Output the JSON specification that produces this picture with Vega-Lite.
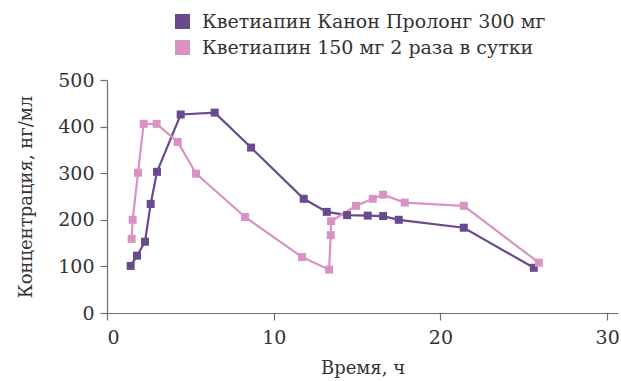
{
  "$schema": "https://vega.github.io/schema/vega-lite/v6.json",
  "width": 511,
  "height": 233,
  "autosize": {"type": "none"},
  "padding": {"left": 107, "top": 80, "right": 3, "bottom": 68},
  "background": "white",
  "config": {
    "font": "DejaVu Serif",
    "view": {"stroke": null},
    "axis": {
      "domainColor": "#6d6d6d",
      "tickColor": "#6d6d6d",
      "domainWidth": 1.2,
      "tickWidth": 1.2,
      "tickSize": 7,
      "labelFont": "DejaVu Serif",
      "labelFontSize": 19,
      "labelColor": "#333333",
      "titleFont": "DejaVu Serif",
      "titleFontSize": 18,
      "titleFontWeight": "normal",
      "titleColor": "#333333",
      "grid": false
    },
    "legend": {
      "labelFont": "DejaVu Serif",
      "labelFontSize": 19,
      "labelColor": "#333333",
      "labelLimit": 0
    }
  },
  "data": {
    "values": [
      {"s": "Кветиапин Канон Пролонг 300 мг", "o": 1, "t": 1.42, "c": 101},
      {"s": "Кветиапин Канон Пролонг 300 мг", "o": 2, "t": 1.8, "c": 123},
      {"s": "Кветиапин Канон Пролонг 300 мг", "o": 3, "t": 2.28, "c": 153},
      {"s": "Кветиапин Канон Пролонг 300 мг", "o": 4, "t": 2.62, "c": 234},
      {"s": "Кветиапин Канон Пролонг 300 мг", "o": 5, "t": 3.0, "c": 303},
      {"s": "Кветиапин Канон Пролонг 300 мг", "o": 6, "t": 4.42, "c": 426},
      {"s": "Кветиапин Канон Пролонг 300 мг", "o": 7, "t": 6.46, "c": 430},
      {"s": "Кветиапин Канон Пролонг 300 мг", "o": 8, "t": 8.64, "c": 355},
      {"s": "Кветиапин Канон Пролонг 300 мг", "o": 9, "t": 11.8, "c": 245},
      {"s": "Кветиапин Канон Пролонг 300 мг", "o": 10, "t": 13.18, "c": 217},
      {"s": "Кветиапин Канон Пролонг 300 мг", "o": 11, "t": 14.4, "c": 210},
      {"s": "Кветиапин Канон Пролонг 300 мг", "o": 12, "t": 15.64, "c": 209},
      {"s": "Кветиапин Канон Пролонг 300 мг", "o": 13, "t": 16.56, "c": 208},
      {"s": "Кветиапин Канон Пролонг 300 мг", "o": 14, "t": 17.5, "c": 200},
      {"s": "Кветиапин Канон Пролонг 300 мг", "o": 15, "t": 21.4, "c": 183},
      {"s": "Кветиапин Канон Пролонг 300 мг", "o": 16, "t": 25.6, "c": 97},
      {"s": "Кветиапин 150 мг 2 раза в сутки", "o": 1, "t": 1.48, "c": 159},
      {"s": "Кветиапин 150 мг 2 раза в сутки", "o": 2, "t": 1.54, "c": 200},
      {"s": "Кветиапин 150 мг 2 раза в сутки", "o": 3, "t": 1.86, "c": 301},
      {"s": "Кветиапин 150 мг 2 раза в сутки", "o": 4, "t": 2.2, "c": 406},
      {"s": "Кветиапин 150 мг 2 раза в сутки", "o": 5, "t": 2.98, "c": 406},
      {"s": "Кветиапин 150 мг 2 раза в сутки", "o": 6, "t": 4.24, "c": 367},
      {"s": "Кветиапин 150 мг 2 раза в сутки", "o": 7, "t": 5.34, "c": 299},
      {"s": "Кветиапин 150 мг 2 раза в сутки", "o": 8, "t": 8.28, "c": 206},
      {"s": "Кветиапин 150 мг 2 раза в сутки", "o": 9, "t": 11.7, "c": 120},
      {"s": "Кветиапин 150 мг 2 раза в сутки", "o": 10, "t": 13.32, "c": 93},
      {"s": "Кветиапин 150 мг 2 раза в сутки", "o": 11, "t": 13.42, "c": 167},
      {"s": "Кветиапин 150 мг 2 раза в сутки", "o": 12, "t": 13.44, "c": 197},
      {"s": "Кветиапин 150 мг 2 раза в сутки", "o": 13, "t": 14.94, "c": 230},
      {"s": "Кветиапин 150 мг 2 раза в сутки", "o": 14, "t": 15.94, "c": 245},
      {"s": "Кветиапин 150 мг 2 раза в сутки", "o": 15, "t": 16.56, "c": 254},
      {"s": "Кветиапин 150 мг 2 раза в сутки", "o": 16, "t": 17.86, "c": 237},
      {"s": "Кветиапин 150 мг 2 раза в сутки", "o": 17, "t": 21.4, "c": 230},
      {"s": "Кветиапин 150 мг 2 раза в сутки", "o": 18, "t": 25.9, "c": 108}
    ]
  },
  "encoding": {
    "x": {
      "field": "t", "type": "quantitative",
      "scale": {"domain": [0, 30.65], "nice": false},
      "axis": {"values": [0, 10, 20, 30], "title": "Время, ч", "labelPadding": 8, "titlePadding": 12}
    },
    "y": {
      "field": "c", "type": "quantitative",
      "scale": {"domain": [0, 500], "nice": false},
      "axis": {"values": [0, 100, 200, 300, 400, 500], "title": "Концентрация, нг/мл", "labelPadding": 6, "titlePadding": 22}
    },
    "color": {
      "field": "s", "type": "nominal",
      "scale": {
        "domain": ["Кветиапин Канон Пролонг 300 мг", "Кветиапин 150 мг 2 раза в сутки"],
        "range": ["#694a8e", "#d993c2"]
      },
      "legend": {
        "title": null,
        "orient": "none",
        "legendX": 66,
        "legendY": -68,
        "symbolType": "square",
        "symbolSize": 225,
        "symbolStrokeWidth": 0,
        "symbolOpacity": 1,
        "rowPadding": 6,
        "labelOffset": 10
      }
    },
    "order": {"field": "o", "type": "quantitative"}
  },
  "layer": [
    {"mark": {"type": "line", "strokeWidth": 2.2}},
    {"mark": {"type": "point", "shape": "square", "filled": true, "size": 64, "opacity": 1}}
  ]
}
